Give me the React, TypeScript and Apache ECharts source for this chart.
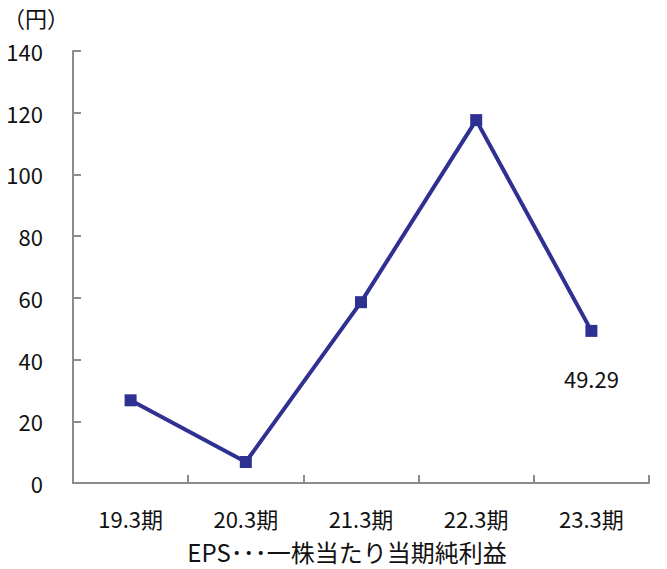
import React, { useEffect, useRef } from "react";
import * as echarts from "echarts";

const categories = ["19.3期", "20.3期", "21.3期", "22.3期", "23.3期"];
const epsValues = [26.8, 6.8, 58.6, 117.6, 49.29];
const labelledIndex = 4;
const unitLabel = "（円）";
const axisTitle = "EPS･･･一株当たり当期純利益";

const FONT = '"Noto Sans CJK JP", "Noto Sans", sans-serif';

export default function App() {
  const ref = useRef<HTMLDivElement>(null);
  useEffect(() => {
    if (!ref.current) return;
    const chart = echarts.init(ref.current, null, { renderer: "svg" });
    chart.setOption({
      animation: false,
      backgroundColor: "#ffffff",
      textStyle: { fontFamily: FONT },
      grid: { left: 73, right: 18, top: 51, bottom: 86, containLabel: false },
      xAxis: {
        type: "category",
        data: categories,
        boundaryGap: true,
        axisLine: { show: true, lineStyle: { color: "#8c8c8c", width: 2 } },
        axisTick: { show: true, inside: true, length: 8, interval: 0, lineStyle: { color: "#8c8c8c", width: 2 } },
        axisLabel: { color: "#111", fontSize: 22, lineHeight: 22, margin: 24, fontFamily: FONT, interval: 0 },
        splitLine: { show: false },
      },
      yAxis: {
        type: "value",
        min: 0,
        max: 140,
        interval: 20,
        axisLine: { show: true, lineStyle: { color: "#8c8c8c", width: 2 } },
        axisTick: { show: true, inside: true, length: 8, lineStyle: { color: "#8c8c8c", width: 2 } },
        axisLabel: { color: "#111", fontSize: 22, margin: 30, fontFamily: FONT },
        splitLine: { show: false },
      },
      graphic: [
        {
          type: "text",
          left: 3,
          top: 6,
          style: { text: unitLabel, fontSize: 22, fill: "#111", fontFamily: FONT },
        },
        {
          type: "text",
          x: 347,
          y: 551.5,
          style: {
            text: axisTitle,
            fontSize: 24,
            lineHeight: 24,
            fill: "#111",
            fontFamily: FONT,
            textAlign: "center",
            textVerticalAlign: "middle",
          },
        },
      ],
      series: [
        {
          type: "line",
          data: epsValues.map((v, i) =>
            i === labelledIndex
              ? {
                  value: v,
                  label: {
                    show: true,
                    position: "bottom",
                    distance: 30,
                    fontSize: 22,
                    color: "#111",
                    fontFamily: FONT,
                    formatter: (p: any) => String(p.value),
                  },
                }
              : v
          ),
          symbol: "rect",
          symbolSize: 12,
          lineStyle: { color: "#2e3192", width: 4 },
          itemStyle: { color: "#2e3192" },
        },
      ],
    });
    return () => chart.dispose();
  }, []);
  return <div ref={ref} style={{ width: 667, height: 569, position: "absolute", left: 0, top: 0 }} />;
}
